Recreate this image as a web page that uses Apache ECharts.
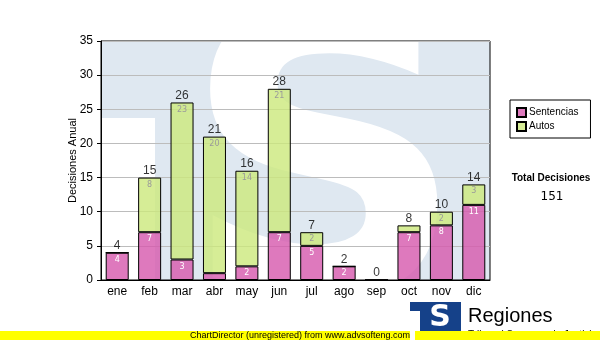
<!DOCTYPE html>
<html>
<head>
<meta charset="utf-8">
<script src="https://cdn.jsdelivr.net/npm/echarts@6/dist/echarts.min.js"></script>
<style>html,body{margin:0;padding:0;background:#fff}#c{width:600px;height:340px}</style>
</head>
<body>
<div id="c"></div>
<script>
var categories = ['ene','feb','mar','abr','may','jun','jul','ago','sep','oct','nov','dic'];
var sentencias = [4, 7, 3, 1, 2, 7, 5, 2, 0, 7, 8, 11];
var autos = [0, 8, 23, 20, 14, 21, 2, 0, 0, 1, 2, 3];
var yTicks = [0, 5, 10, 15, 20, 25, 30, 35];

var totals = categories.map(function (c, i) { return sentencias[i] + autos[i]; });
var grand = totals.reduce(function (a, b) { return a + b; }, 0);

var chart = echarts.init(document.getElementById('c'), null, {renderer: 'canvas'});
var F = '"Liberation Sans", Arial, sans-serif';
var V = '"DejaVu Sans", Verdana, sans-serif';
function innerLabel(color) {
  return {
    show: true, position: 'insideTop', distance: 3,
    color: color, fontSize: 8, fontFamily: V,
    formatter: function (p) { return p.value >= 2 ? String(p.value) : ''; }
  };
}
chart.setOption({
  animation: false,
  backgroundColor: '#ffffff',
  grid: {left: 101, right: 110, top: 41, bottom: 60, show: true, borderColor: '#000', borderWidth: 1, backgroundColor: 'transparent'},
  legend: {
    data: ['Sentencias', 'Autos'], orient: 'vertical', left: 510, top: 100,
    borderColor: '#000', borderWidth: 1, padding: [7, 12, 6, 6], itemGap: 3,
    itemWidth: 9, itemHeight: 9, icon: 'rect',
    textStyle: {fontSize: 10, fontFamily: F, color: '#000', padding: [0, 0, 0, -2]}
  },
  xAxis: {
    type: 'category', data: categories,
    axisLine: {lineStyle: {color: '#000'}},
    axisTick: {alignWithLabel: true, length: 4, lineStyle: {color: '#000'}},
    axisLabel: {color: '#000', fontSize: 12, fontFamily: F, margin: 6}
  },
  yAxis: {
    type: 'value', min: yTicks[0], max: yTicks[yTicks.length - 1], interval: 5,
    name: 'Decisiones Anual', nameLocation: 'middle', nameGap: 23, nameMoveOverlap: false,
    nameTextStyle: {fontSize: 11, fontFamily: F, color: '#000'},
    axisLine: {show: true, lineStyle: {color: '#000'}},
    axisTick: {show: true, length: 4, lineStyle: {color: '#000'}},
    axisLabel: {color: '#000', fontSize: 12, fontFamily: F, margin: 8},
    splitLine: {lineStyle: {color: '#bcbcbc'}}
  },
  series: [
    {
      name: 'Sentencias', type: 'bar', stack: 'd', data: sentencias, barWidth: 23,
      itemStyle: {color: 'rgba(214,88,172,0.8)', borderColor: '#000', borderWidth: 1},
      label: innerLabel('#ffffff')
    },
    {
      name: 'Autos', type: 'bar', stack: 'd', data: autos, barWidth: 23,
      itemStyle: {color: 'rgba(204,232,124,0.8)', borderColor: '#000', borderWidth: 1},
      label: innerLabel('#9a9a9a')
    },
    {
      name: 'Total', type: 'scatter', data: totals, symbolSize: 0, z: 5,
      label: {show: true, position: 'top', distance: 1, color: '#000', fontSize: 12, fontFamily: F}
    }
  ],
  graphic: [
    {type: 'rect', z: -10, shape: {x: 101, y: 41, width: 389, height: 239}, style: {fill: '#dfe8f1'}},
    {type: 'rect', z: -9, shape: {x: 101, y: 118, width: 54, height: 162}, style: {fill: '#ffffff'}},
    {type: 'text', z: -9, x: 324, y: 190, style: {text: 'S', font: 'bold 395px "DejaVu Sans"', fill: '#ffffff', textAlign: 'center', textVerticalAlign: 'middle'}},
    {type: 'rect', z: -8, shape: {x: 0, y: 281, width: 600, height: 60}, style: {fill: '#ffffff'}},
    {type: 'rect', z: -8, shape: {x: 0, y: 0, width: 600, height: 40}, style: {fill: '#ffffff'}},
    {type: 'text', x: 551, y: 178, style: {text: 'Total Decisiones', font: 'bold 10px "Liberation Sans"', fill: '#000', textAlign: 'center', textVerticalAlign: 'middle'}},
    {type: 'text', x: 552, y: 197, style: {text: String(grand), font: '12px "DejaVu Sans"', fill: '#000', textAlign: 'center', textVerticalAlign: 'middle'}},
    {type: 'rect', z: 10, shape: {x: 410, y: 302, width: 51, height: 30}, style: {fill: '#154189'}},
    {type: 'rect', z: 11, shape: {x: 410, y: 311, width: 10, height: 21}, style: {fill: '#ffffff'}},
    {type: 'text', z: 11, x: 440, y: 318, style: {text: 'S', font: 'bold 30px "DejaVu Sans"', fill: '#ffffff', textAlign: 'center', textVerticalAlign: 'middle'}},
    {type: 'text', z: 11, x: 468, y: 316, style: {text: 'Regiones', font: '20px "Liberation Sans"', fill: '#000', textVerticalAlign: 'middle'}},
    {type: 'text', z: 11, x: 468, y: 335, style: {text: 'Tribunal Supremo de Justicia', font: '10px "Liberation Sans"', fill: '#000', textVerticalAlign: 'middle'}},
    {type: 'rect', z: 12, shape: {x: 0, y: 331, width: 600, height: 9}, style: {fill: '#ffff00'}},
    {type: 'rect', z: 12, shape: {x: 410, y: 331, width: 5, height: 9}, style: {fill: '#ffffff'}},
    {type: 'text', z: 13, x: 300, y: 335.5, style: {text: 'ChartDirector (unregistered) from www.advsofteng.com', font: '9px "Liberation Sans"', fill: '#000', textAlign: 'center', textVerticalAlign: 'middle'}}
  ]
});
</script>
</body>
</html>
